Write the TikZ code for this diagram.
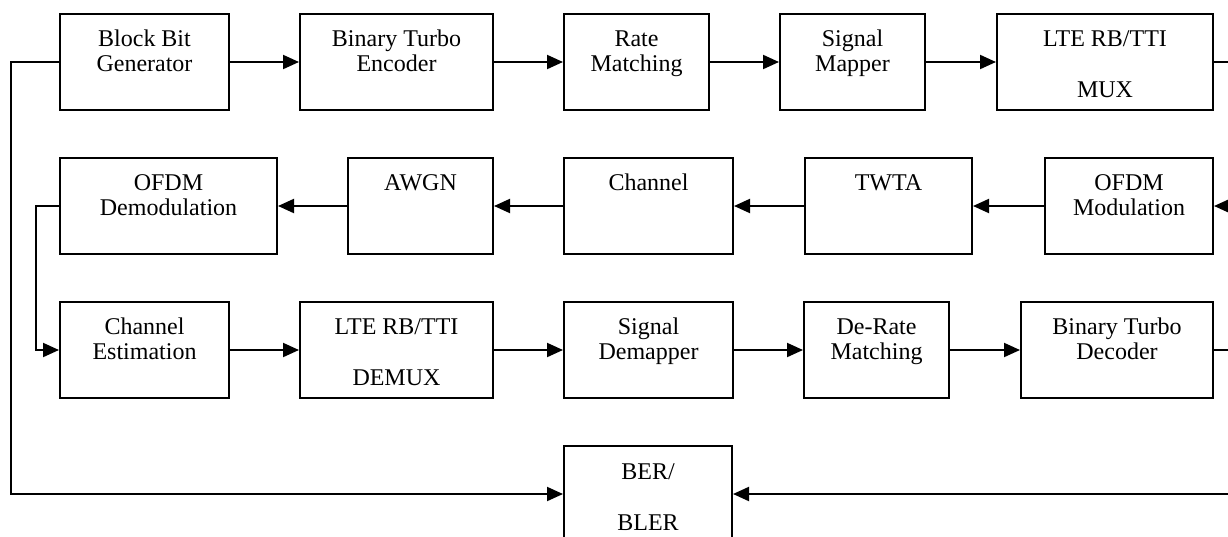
\documentclass[tikz,border=0pt]{standalone}
\usepackage{fontspec}
\setmainfont{Liberation Serif}
\usetikzlibrary{arrows.meta}
\begin{document}
\begin{tikzpicture}[x=1pt,y=-1pt,
  box/.style={draw, line width=2pt, inner sep=0pt, minimum height=96pt},
  lbl/.style={anchor=base, inner sep=0pt, font=\fontsize{24}{25.75}\selectfont},
  conn/.style={line width=2pt},
  arr/.style={conn, -{Triangle[length=16pt,width=14pt]}}]
\useasboundingbox (0,0) rectangle (1228,536);
\clip (0,0) rectangle (1228,536);
% row 1
\node[box, minimum width=169pt] (bbg) at (144.5,62) {};
\node[box, minimum width=193pt] (bte) at (396.5,62) {};
\node[box, minimum width=145pt] (rm) at (636.5,62) {};
\node[box, minimum width=145pt] (sm) at (852.5,62) {};
\node[box, minimum width=216pt] (mux) at (1105,62) {};
% row 2
\node[box, minimum width=217pt] (ofdmd) at (168.5,206) {};
\node[box, minimum width=145pt] (awgn) at (420.5,206) {};
\node[box, minimum width=169pt] (chan) at (648.5,206) {};
\node[box, minimum width=167pt] (twta) at (888.5,206) {};
\node[box, minimum width=168pt] (ofdmm) at (1129,206) {};
% row 3
\node[box, minimum width=169pt] (ce) at (144.5,350) {};
\node[box, minimum width=193pt] (demux) at (396.5,350) {};
\node[box, minimum width=169pt] (sd) at (648.5,350) {};
\node[box, minimum width=145pt] (drm) at (876.5,350) {};
\node[box, minimum width=192pt] (btd) at (1117,350) {};
% row 4
\node[box, minimum width=168pt] (ber) at (648,494) {};
% labels
\node[lbl] (bbgt) at ([yshift=-33pt]bbg.north) {\begin{tabular}[t]{@{}c@{}}Block Bit\\Generator\end{tabular}};
\node[lbl] (btet) at ([yshift=-33pt]bte.north) {\begin{tabular}[t]{@{}c@{}}Binary Turbo\\Encoder\end{tabular}};
\node[lbl] (rmt) at ([yshift=-33pt]rm.north) {\begin{tabular}[t]{@{}c@{}}Rate\\Matching\end{tabular}};
\node[lbl] (smt) at ([yshift=-33pt]sm.north) {\begin{tabular}[t]{@{}c@{}}Signal\\Mapper\end{tabular}};
\node[lbl] (muxt) at ([yshift=-33pt]mux.north) {\begin{tabular}[t]{@{}c@{}}LTE RB/TTI\\ \\MUX\end{tabular}};
\node[lbl] (ofdmdt) at ([yshift=-33pt]ofdmd.north) {\begin{tabular}[t]{@{}c@{}}OFDM\\Demodulation\end{tabular}};
\node[lbl] (awgnt) at ([yshift=-33pt]awgn.north) {AWGN};
\node[lbl] (chant) at ([yshift=-33pt]chan.north) {Channel};
\node[lbl] (twtat) at ([yshift=-33pt]twta.north) {TWTA};
\node[lbl] (ofdmmt) at ([yshift=-33pt]ofdmm.north) {\begin{tabular}[t]{@{}c@{}}OFDM\\Modulation\end{tabular}};
\node[lbl] (cet) at ([yshift=-33pt]ce.north) {\begin{tabular}[t]{@{}c@{}}Channel\\Estimation\end{tabular}};
\node[lbl] (demuxt) at ([yshift=-33pt]demux.north) {\begin{tabular}[t]{@{}c@{}}LTE RB/TTI\\ \\DEMUX\end{tabular}};
\node[lbl] (sdt) at ([yshift=-33pt]sd.north) {\begin{tabular}[t]{@{}c@{}}Signal\\Demapper\end{tabular}};
\node[lbl] (drmt) at ([yshift=-33pt]drm.north) {\begin{tabular}[t]{@{}c@{}}De-Rate\\Matching\end{tabular}};
\node[lbl] (btdt) at ([yshift=-33pt]btd.north) {\begin{tabular}[t]{@{}c@{}}Binary Turbo\\Decoder\end{tabular}};
\node[lbl] (bert) at ([yshift=-34pt]ber.north) {\begin{tabular}[t]{@{}c@{}}BER/\\ \\BLER\end{tabular}};
% connectors row 1
\draw[arr] (bbg) -- (bte);
\draw[arr] (bte) -- (rm);
\draw[arr] (rm) -- (sm);
\draw[arr] (sm) -- (mux);
\draw[arr] (mux.east) -- ++(30,0) |- (ofdmm.east);
% row 2
\draw[arr] (ofdmm) -- (twta);
\draw[arr] (twta) -- (chan);
\draw[arr] (chan) -- (awgn);
\draw[arr] (awgn) -- (ofdmd);
\draw[arr] (ofdmd.west) -- ++(-23,0) |- (ce.west);
% row 3
\draw[arr] (ce) -- (demux);
\draw[arr] (demux) -- (sd);
\draw[arr] (sd) -- (drm);
\draw[arr] (drm) -- (btd);
\draw[arr] (btd.east) -- ++(30,0) |- (ber.east);
% feed to BER
\draw[arr] (bbg.west) -- ++(-48,0) |- (ber.west);
\end{tikzpicture}
\end{document}
